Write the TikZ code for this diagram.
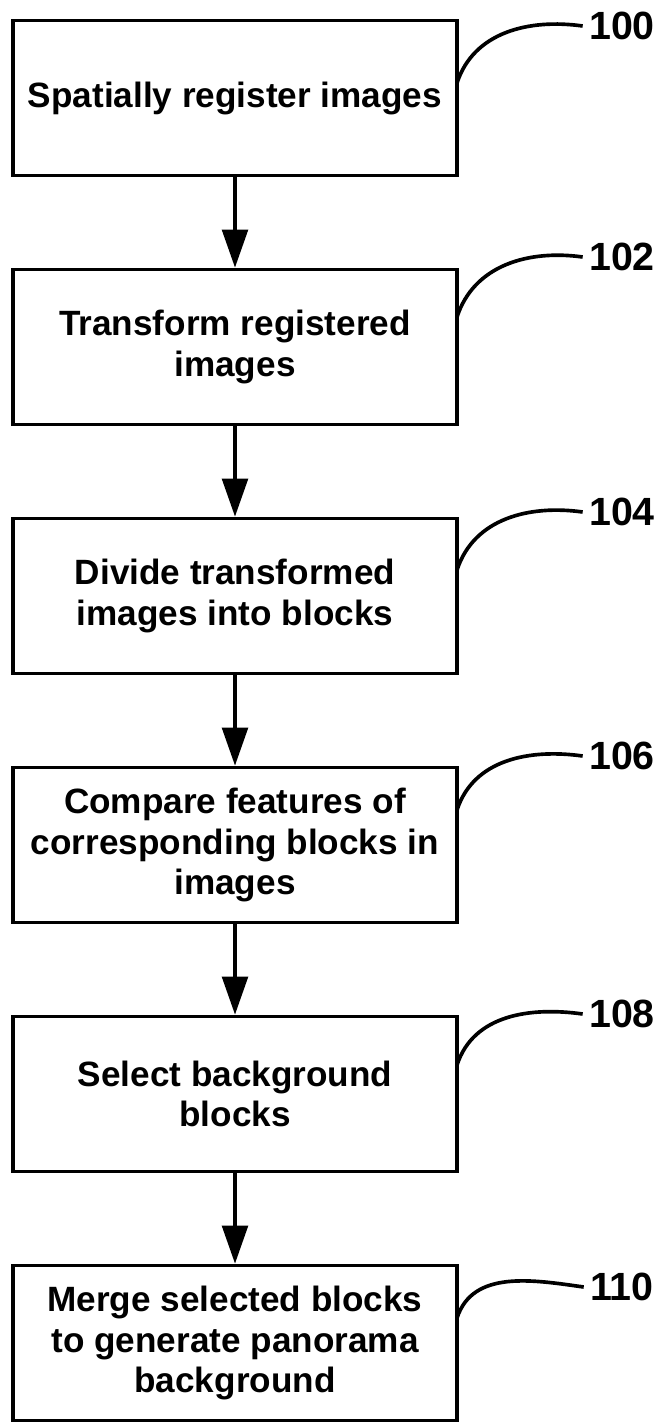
\documentclass[tikz,border=0pt]{standalone}
\usepackage{fontspec}
\setmainfont{Liberation Sans}
\usetikzlibrary{arrows.meta}
\tikzstyle{every path}=[line width=2.6pt]
\tikzstyle{stepbox}=[draw, minimum width=11.1cm, minimum height=3.875cm, align=center, font=\fontsize{25}{29}\selectfont\bfseries]
\tikzstyle{reflabel}=[font=\fontsize{28}{34}\selectfont\bfseries]
\tikzstyle{flow}=[-{Triangle[length=0.95cm,width=0.64cm]}]
\tikzstyle{leader}=[out=72, in=172]
\begin{document}
\begin{tikzpicture}
            \useasboundingbox (0, 0) rectangle (16.575, -35.625);

            \node[stepbox] (register) at (5.875, -2.45) {Spatially register images};
            \node[stepbox] (transform) at (5.875, -8.675) {Transform registered\\images};
            \node[stepbox] (divide) at (5.875, -14.9) {Divide transformed\\images into blocks};
            \node[stepbox] (compare) at (5.875, -21.125) {Compare features of\\corresponding blocks in\\images};
            \node[stepbox] (select) at (5.875, -27.35) {Select background\\blocks};
            \node[stepbox] (merge) at (5.875, -33.575) {Merge selected blocks\\to generate panorama\\background};

            \draw[flow] (register) -- (transform);
            \draw[flow] (transform) -- (divide);
            \draw[flow] (divide) -- (compare);
            \draw[flow] (compare) -- (select);
            \draw[flow] (select) -- (merge);

            \node[reflabel] (ref100) at (15.55, -0.65) {100};
            \node[reflabel] (ref102) at (15.55, -6.425) {102};
            \node[reflabel] (ref104) at (15.55, -12.8) {104};
            \node[reflabel] (ref106) at (15.55, -18.9) {106};
            \node[reflabel] (ref108) at (15.55, -25.35) {108};
            \node[reflabel] (ref110) at (15.55, -32.175) {110};

            \coordinate (tick100) at (11.425, -2.075);
            \coordinate (tick102) at (11.425, -7.925);
            \coordinate (tick104) at (11.425, -14.25);
            \coordinate (tick106) at (11.425, -20.25);
            \coordinate (tick108) at (11.425, -26.625);
            \coordinate (tick110) at (11.425, -32.95);

            \draw (tick100) to[leader] (ref100.west);
            \draw (tick102) to[leader] (ref102.west);
            \draw (tick104) to[leader] (ref104.west);
            \draw (tick106) to[leader] (ref106.west);
            \draw (tick108) to[leader] (ref108.west);
            \draw (tick110) to[leader] (ref110.west);
\end{tikzpicture}
\end{document}
